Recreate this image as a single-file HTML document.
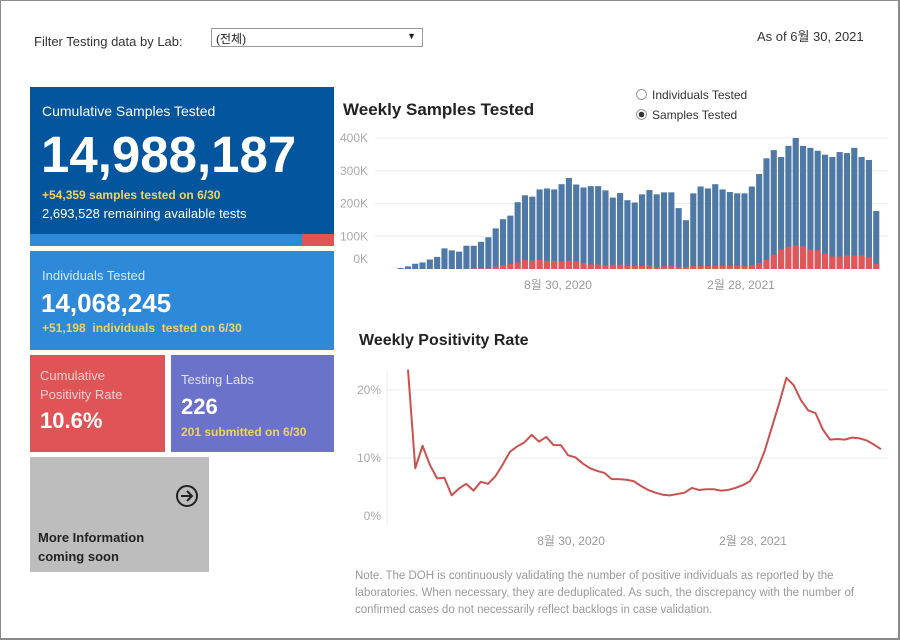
<!DOCTYPE html>
<html><head><meta charset="utf-8">
<style>
*{margin:0;padding:0;box-sizing:border-box}
body{width:900px;height:640px;background:#fff;font-family:"Liberation Sans","Noto Sans CJK KR",sans-serif;position:relative;overflow:hidden}
.frame{position:absolute;left:0;top:0;width:900px;height:640px;border:1px solid #8a8a8a;border-right:2px solid #8a8a8a;border-bottom:2px solid #8a8a8a}
.abs{position:absolute}
.card{position:absolute;color:#fff}
</style></head><body>
<div class="frame"></div>
<div class="abs" style="left:34px;top:34px;font-size:13px;color:#333">Filter Testing data by Lab:</div>
<div class="abs" style="left:211px;top:28px;width:212px;height:19px;border:1px solid #999;font-size:12px;padding:1px 4px;color:#222">(전체)<span style="position:absolute;right:6px;top:2px;font-size:9px">▼</span></div>
<div class="abs" style="left:757px;top:26px;font-size:13px;color:#333">As of 6월 30, 2021</div>

<div class="card" style="left:30px;top:87px;width:304px;height:159px;background:#03559d">
 <div class="abs" style="left:12px;top:16px;font-size:14px">Cumulative Samples Tested</div>
 <div class="abs" style="left:11px;top:38px;font-size:51px;font-weight:bold;letter-spacing:0px">14,988,187</div>
 <div class="abs" style="left:12px;top:101px;font-size:12px;font-weight:bold;color:#f2d35a">+54,359 samples tested on 6/30</div>
 <div class="abs" style="left:12px;top:119px;font-size:13px">2,693,528 remaining available tests</div>
 <div class="abs" style="left:0;top:147px;width:272px;height:12px;background:#2e8ad8"></div>
 <div class="abs" style="left:272px;top:147px;width:32px;height:12px;background:#e05457"></div>
</div>
<div class="card" style="left:30px;top:251px;width:304px;height:99px;background:#2e8ad8">
 <div class="abs" style="left:12px;top:17px;font-size:13px;color:#d7e8f8">Individuals Tested</div>
 <div class="abs" style="left:11px;top:37px;font-size:26px;font-weight:bold">14,068,245</div>
 <div class="abs" style="left:12px;top:70px;font-size:12px;font-weight:bold;color:#f2d35a">+51,198 &nbsp;individuals &nbsp;tested on 6/30</div>
</div>
<div class="card" style="left:30px;top:355px;width:135px;height:97px;background:#e05457">
 <div class="abs" style="left:10px;top:11px;font-size:13px;line-height:19px;color:#fbd0d0">Cumulative<br>Positivity Rate</div>
 <div class="abs" style="left:10px;top:53px;font-size:22px;font-weight:bold">10.6%</div>
</div>
<div class="card" style="left:171px;top:355px;width:163px;height:97px;background:#6a72c9">
 <div class="abs" style="left:10px;top:17px;font-size:13px;color:#e0e2f6">Testing Labs</div>
 <div class="abs" style="left:10px;top:39px;font-size:22px;font-weight:bold">226</div>
 <div class="abs" style="left:10px;top:70px;font-size:12px;font-weight:bold;color:#f2d35a">201 submitted on 6/30</div>
</div>
<div class="card" style="left:30px;top:457px;width:179px;height:115px;background:#bdbdbd;color:#222">
 <svg class="abs" style="left:145px;top:27px" width="24" height="24"><circle cx="12" cy="12" r="10" fill="none" stroke="#222" stroke-width="2"/><path d="M6 12h11M12 7l5 5-5 5" fill="none" stroke="#222" stroke-width="2"/></svg>
 <div class="abs" style="left:8px;top:71px;font-size:13px;font-weight:bold;line-height:19px">More Information<br>coming soon</div>
</div>

<div class="abs" style="left:343px;top:100px;font-size:17px;font-weight:bold;color:#222">Weekly Samples Tested</div>
<div class="abs" style="left:636px;top:85px;font-size:12px;color:#333;line-height:20px">
 <div><span style="display:inline-block;width:11px;height:11px;border:1px solid #999;border-radius:50%;vertical-align:-1px;margin-right:5px"></span>Individuals Tested</div>
 <div><span style="display:inline-block;width:11px;height:11px;border:1px solid #999;border-radius:50%;vertical-align:-1px;margin-right:5px;background:radial-gradient(#333 0 2.5px,#fff 3px)"></span>Samples Tested</div>
</div>
<div class="abs" style="left:359px;top:332px;font-size:16px;font-weight:bold;color:#222">Weekly Positivity Rate</div>
<div class="abs" style="left:355px;top:568px;font-size:11.5px;color:#999;line-height:17px;width:540px;white-space:nowrap">Note. The DOH is continuously validating the number of positive individuals as reported by the<br>laboratories. When necessary, they are deduplicated. As such, the discrepancy with the number of<br>confirmed cases do not necessarily reflect backlogs in case validation.</div>

<svg class="abs" style="left:0;top:0" width="900" height="640" id="charts"></svg>
<script>
const samples=[3,8,16,20,29,37,63,57,53,71,71,83,97,124,152,163,204,225,221,243,246,243,259,278,258,249,253,253,240,218,232,210,203,228,241,228,234,234,186,149,231,252,246,259,243,235,231,231,252,290,338,363,342,376,400,376,370,361,349,342,357,354,370,342,333,177];
const positives=[0,0,0,0,0,0,0,0,0,0,2,2,2,7,12,15,20,27,25,28,25,25,23,25,23,18,14,14,11,13,13,9,9,9,9,6,9,9,6,6,9,9,9,9,9,9,9,9,12,18,28,44,59,68,72,69,59,57,47,38,38,41,41,41,36,15];
const positivity=[23.0,8.5,11.8,9.0,7.0,7.1,4.5,5.5,6.2,5.2,6.5,6.2,7.3,9.0,10.9,11.7,12.3,13.4,12.4,13.1,11.9,11.9,10.4,10.1,9.2,8.5,8.1,7.8,6.9,6.9,6.8,6.6,5.9,5.3,4.9,4.6,4.5,4.7,4.9,5.6,5.3,5.4,5.4,5.2,5.3,5.6,6.0,6.6,8.3,11.0,14.5,18.0,21.8,20.7,18.5,17.0,16.6,14.2,12.7,12.8,12.7,13.0,12.9,12.6,12.0,11.3];
const barTicks=[0,100,200,300,400];
const rateTicks=[0,10,20];
const xLabels=["8월 30, 2020","2월 28, 2021"];
const xLabelIdx=[22,47];

const NS="http://www.w3.org/2000/svg";
const svg=document.getElementById('charts');
function mk(t,a){const e=document.createElementNS(NS,t);for(const k in a)e.setAttribute(k,a[k]);svg.appendChild(e);return e;}
const bx0=397,bx1=880,by0=269,byTop=138;
const yB=v=>by0-(v/400)*(by0-byTop);
const bw=(bx1-bx0)/samples.length;
const xB=i=>bx0+i*bw;
barTicks.forEach(t=>{
  if(t>0){const l=mk('line',{x1:375,x2:888,y1:yB(t),y2:yB(t),stroke:'#ececec'});
  
  }
  const tx=mk('text',{x:368,y:(t===0?yB(t)-6:yB(t)+4),'text-anchor':'end','font-size':'12',fill:'#aaa','font-family':'Liberation Sans, sans-serif'});
  tx.textContent=t+'K';
  
  
});
samples.forEach((v,i)=>{
  const r=mk('rect',{x:xB(i)+0.5,y:yB(v),width:bw-1.2,height:by0-yB(v),fill:'#4e79a7'});
  
  
  const p=positives[i];
  if(p>0){const q=mk('rect',{x:xB(i)+0.5,y:yB(p),width:bw-1.2,height:by0-yB(p),fill:'#e15759'});
  
  }
});
xLabels.forEach((s,k)=>{
  const t=mk('text',{x:xB(xLabelIdx[k]),y:289,'text-anchor':'middle','font-size':'12',fill:'#999','font-family':'Liberation Sans, Noto Sans CJK KR, sans-serif'});
  t.textContent=s;
  
  
});
const lx0=408,lx1=881,ly0=526,ly20=390;
const yL=v=>ly0-(v/20)*(ly0-ly20);
const xL=i=>lx0+i*(lx1-lx0)/(positivity.length-1);
const ax=mk('line',{x1:387,x2:387,y1:370,y2:526,stroke:'#eee'});


rateTicks.forEach(t=>{
  if(t>0){const l=mk('line',{x1:387,x2:888,y1:yL(t),y2:yL(t),stroke:'#ececec'});
  
  }
  const tx=mk('text',{x:381,y:(t===0?yL(t)-6:yL(t)+4),'text-anchor':'end','font-size':'12',fill:'#aaa','font-family':'Liberation Sans, sans-serif'});
  tx.textContent=t+'%';
  
  
});
const pl=mk('polyline',{points:positivity.map((v,i)=>xL(i)+','+yL(v)).join(' '),fill:'none',stroke:'#c9524f','stroke-width':'2','stroke-linejoin':'round'});


xLabels.forEach((s,k)=>{
  const t=mk('text',{x:xL(xLabelIdx[k])+3,y:545,'text-anchor':'middle','font-size':'12',fill:'#999','font-family':'Liberation Sans, Noto Sans CJK KR, sans-serif'});
  t.textContent=s;
  
  
});
</script>
</body></html>
